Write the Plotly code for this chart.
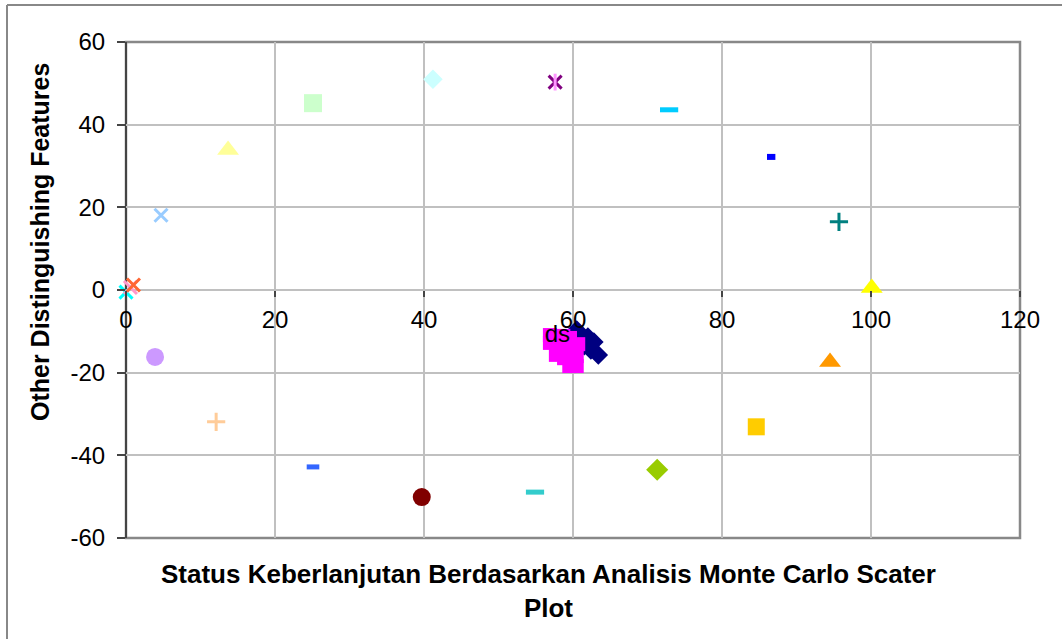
import plotly.graph_objects as go

# ---- data ----
point_x = [0.0, 0.6, 1.0, 4.7, 13.7, 25.1, 41.2, 57.6, 72.9, 86.6, 95.7, 100.1,
           94.5, 84.6, 71.3, 54.9, 39.7, 25.1, 12.1, 3.9]
point_y = [-0.5, 0.6, 1.2, 18.1, 33.9, 45.2, 51.0, 50.3, 43.6, 32.2, 16.5, 0.5,
           -17.4, -33.1, -43.5, -48.9, -50.1, -42.8, -31.9, -16.2]
point_color = ["#00FFFF", "#FF99CC", "#FF6633", "#99CCFF", "#FFFF99", "#CCFFCC",
               "#CCFFFF", "#800080", "#00CCFF", "#0000FF", "#008080", "#FFFF00",
               "#FF9900", "#FFCC00", "#99CC00", "#33CCCC", "#800000", "#3366FF",
               "#FFCC99", "#CC99FF"]
point_symbol = ["x-thin-open", "x-thin-open", "x-thin-open", "x-thin-open",
                "triangle-up", "square", "diamond", "x-thin-open", "line-ew-open",
                "line-ew-open", "cross-thin-open", "triangle-up", "triangle-up",
                "square", "diamond", "line-ew-open", "circle", "line-ew-open",
                "cross-thin-open", "circle"]
point_size = [13, 13, 13, 13, 19, 18, 15, 13, 13, 6, 13, 19, 19, 17, 17, 13, 18, 9, 13, 18]

diamond_x = [60.5, 62.0, 62.8, 61.5, 62.4, 63.4]
diamond_y = [-9.7, -11.4, -12.6, -13.5, -14.5, -15.7]

square_x = [56.9, 57.7, 58.7, 59.6, 56.9, 57.9, 58.9, 59.9, 60.7, 57.7, 58.8,
            59.7, 60.5, 59.5, 60.5]
square_y = [-10.9, -12.1, -11.1, -11.6, -12.8, -14.3, -13.5, -14.5, -13.1, -15.7,
            -16.5, -16.9, -16.0, -18.4, -18.4]

label_x = [57.9]
label_y = [-11.1]
label_text = ["ds"]

x_ticks = [0, 20, 40, 60, 80, 100, 120]
y_ticks = [-60, -40, -20, 0, 20, 40, 60]

x_title = "Status Keberlanjutan Berdasarkan Analisis Monte Carlo Scater<br>Plot"
y_title = "Other Distinguishing Features"

FONT = "Liberation Sans, Arial, sans-serif"

L, T = 126, 42
PW, PH = 894, 496
W, H = 1062, 639

fig = go.Figure()

# single points
for xv, yv, c, s, sz in zip(point_x, point_y, point_color, point_symbol, point_size):
    is_open = s.endswith("-open")
    lw = 5 if s.startswith("line-ew") else 3
    if s == "line-ew-open" and sz <= 6:
        lw = 6
    marker = dict(symbol=s, size=sz, color=c)
    if is_open:
        marker["line"] = dict(color=c, width=lw)
    else:
        marker["line"] = dict(width=0)
    fig.add_trace(go.Scatter(x=[xv], y=[yv], mode="markers", marker=marker,
                             cliponaxis=False, showlegend=False, hoverinfo="x+y"))
    if c == "#800080":  # asterisk: add vertical bar
        fig.add_trace(go.Scatter(x=[xv], y=[yv], mode="markers",
                                 marker=dict(symbol="line-ns-open", size=12,
                                             line=dict(color=c, width=3)),
                                 cliponaxis=False, showlegend=False, hoverinfo="skip"))

fig.add_trace(go.Scatter(x=diamond_x, y=diamond_y, mode="markers",
                         marker=dict(symbol="diamond", size=15, color="#000080",
                                     line=dict(width=0)),
                         showlegend=False))
fig.add_trace(go.Scatter(x=square_x, y=square_y, mode="markers",
                         marker=dict(symbol="square", size=14, color="#FF00FF",
                                     line=dict(width=0)),
                         showlegend=False))
fig.add_trace(go.Scatter(x=label_x, y=label_y, mode="text", text=label_text,
                         textfont=dict(family=FONT, size=24, color="#000000"),
                         textposition="middle center", showlegend=False))

fig.update_layout(
    width=W, height=H,
    margin=dict(l=L, r=W - L - PW, t=T, b=H - T - PH, autoexpand=False),
    paper_bgcolor="white", plot_bgcolor="white",
    font=dict(family=FONT, size=24, color="#000000"),
    xaxis=dict(range=[0, 120], tickvals=x_ticks, ticktext=[str(v) for v in x_ticks],
               anchor="free", position=0.5, showline=False, zeroline=False,
               showgrid=True, gridcolor="#C0C0C0", gridwidth=1.5,
               ticks="outside", ticklen=6, tickwidth=1.5, tickcolor="#444444",
               tickfont=dict(size=24), ticklabelstandoff=2),
    yaxis=dict(range=[-60, 60], tickvals=y_ticks, ticktext=[str(v) for v in y_ticks],
               showline=False, zeroline=False,
               showgrid=True, gridcolor="#C0C0C0", gridwidth=1.5,
               ticks="outside", ticklen=8, tickwidth=1.5, tickcolor="#444444",
               tickfont=dict(size=24), ticklabelstandoff=7),
)


def px_x(p):
    return (p - L) / PW


def px_y(p):
    return (T + PH - p) / PH


shapes = [
    # plot area border
    dict(type="rect", xref="paper", yref="paper", x0=0, y0=0, x1=1, y1=1,
         line=dict(color="#888888", width=2.5), layer="between"),
    # y axis line at x=0
    dict(type="line", xref="paper", yref="paper", x0=0, x1=0, y0=0, y1=1,
         line=dict(color="#444444", width=2), layer="between"),
    # x axis line at y=0
    dict(type="line", xref="paper", yref="y", x0=0, x1=1, y0=0, y1=0,
         line=dict(color="#444444", width=1.5), layer="between"),
    # outer chart border (top and left visible)
    dict(type="line", xref="paper", yref="paper", x0=px_x(7), x1=px_x(1070),
         y0=px_y(5), y1=px_y(5), line=dict(color="#888888", width=2)),
    dict(type="line", xref="paper", yref="paper", x0=px_x(7), x1=px_x(7),
         y0=px_y(5), y1=px_y(700), line=dict(color="#888888", width=2)),
]
fig.update_layout(shapes=shapes)

fig.add_annotation(text=x_title, xref="paper", yref="paper",
                   x=px_x(548), y=px_y(591),
                   xanchor="center", yanchor="middle", showarrow=False,
                   font=dict(family=FONT, size=26, color="#000000", weight="bold"))
fig.add_annotation(text=y_title, xref="paper", yref="paper",
                   x=px_x(40), y=px_y(242), textangle=-90,
                   xanchor="center", yanchor="middle", showarrow=False,
                   font=dict(family=FONT, size=25, color="#000000", weight="bold"))

fig.write_html("out.html", config={"displayModeBar": False},
               post_script="document.body.style.margin='0';document.body.style.overflow='hidden';")
